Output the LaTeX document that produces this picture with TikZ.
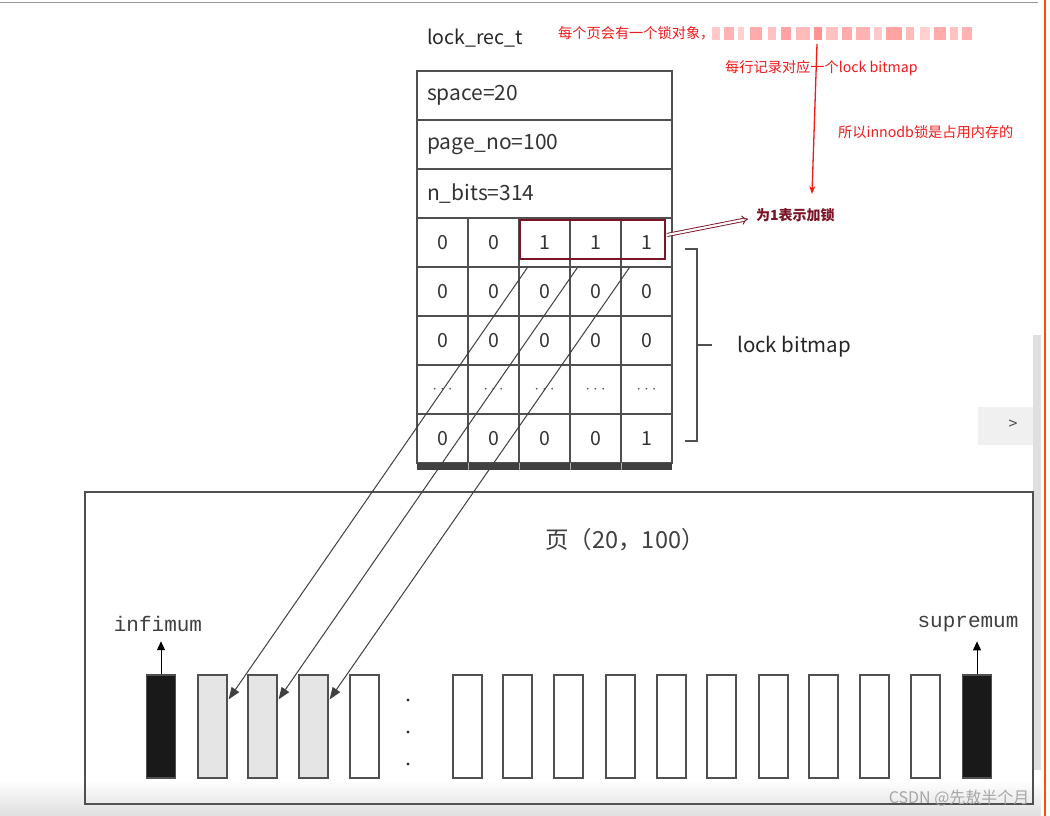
\documentclass[tikz,border=0pt]{standalone}
\usepackage{fontspec}
\setmainfont{Noto Sans CJK SC}
\newfontfamily\monof{Liberation Mono}
\usetikzlibrary{arrows.meta,calc}
\definecolor{hlred}{HTML}{7B1425}
\definecolor{annred}{HTML}{F01A1A}
\definecolor{linegray}{HTML}{505050}
\begin{document}
\begin{tikzpicture}[x=1pt,y=-1pt,
  cell/.style={draw=linegray, line width=1.2pt, minimum width=51pt, minimum height=49pt, inner sep=0pt,
    font=\fontsize{19.5}{22}\selectfont, text=black!80},
  hdr/.style={cell, minimum width=255pt, text width=235pt, align=left, font=\fontsize{21}{24}\selectfont},
  rec/.style={draw=linegray, line width=1.2pt, minimum width=29pt, minimum height=103pt, inner sep=0pt},
  wrec/.style={rec, fill=white},
  grec/.style={rec, fill=gray!20},
  brec/.style={rec, fill=black!90},
  ann/.style={text=annred, font=\fontsize{14.2}{16}\selectfont, inner sep=0pt, anchor=west},
  link/.style={black!75, line width=1pt, -{Triangle[length=12pt,width=9pt]}},
  uparrow/.style={black, line width=1pt, -{Triangle[length=9pt,width=8pt]}},
  mono/.style={font=\monof\fontsize{21}{23}\selectfont, text=black!75}
]
\useasboundingbox (0,0) rectangle (1050,816);
\fill[white] (0,0) rectangle (1050,816);

% window chrome
\draw[gray!80, line width=1pt] (0,3) -- (1038,3);
\fill[gray!25] (1033,335) rectangle (1041,770);
\fill[gray!12] (978,407) rectangle (1033,445);
\node[font=\fontsize{16}{16}\selectfont, text=black!70] (nextbtn) at (1013,425) {>};
\shade[top color=white, bottom color=gray!25] (0,780) rectangle (1041,816);
\draw[orange!60!red, line width=2pt] (1045,0) -- (1045,816);

% title
\node[font=\fontsize{19.5}{22}\selectfont, text=black!85, anchor=west, inner sep=0pt] (title) at (427,38) {lock\_rec\_t};

% header rows
\node[hdr] (space) at (544.5,95.5) {space=20};
\node[hdr] (pageno) at (544.5,144.5) {page\_no=100};
\node[hdr] (nbits) at (544.5,193.5) {n\_bits=314};

% bitmap rows
\foreach \r/\row in {1/{0,0,1,1,1},2/{0,0,0,0,0},3/{0,0,0,0,0},5/{0,0,0,0,1}}{
  \foreach \v [count=\c] in \row {
    \node[cell] (b\r\c) at ({417+25.5+(\c-1)*51},{218+24.5+(\r-1)*49}) {\v};
  }
}
\foreach \c in {1,...,5}{
  \node[cell, text=black!65] (b4\c) at ({417+25.5+(\c-1)*51},{218+24.5+3*49}) {\fontsize{18}{18}\selectfont $\cdots$};
}
\fill[black!75] (417,463) rectangle (672,470);
\foreach \x in {468,519,570,621}{ \draw[gray!60, line width=0.8pt] (\x,463) -- (\x,470); }

% highlight box
\node[draw=hlred, line width=1.6pt, minimum width=145pt, minimum height=39pt, inner sep=0pt] (hl) at (592.5,239.5) {};
\node[text=hlred, font=\bfseries\fontsize{14}{16}\selectfont, inner sep=0pt, anchor=west] (lockmsg) at (756,215) {为1表示加锁};
\coordinate (hlout) at (667,235);
\coordinate (hlin) at (748,219);
\draw[hlred, line width=0.9pt, double distance=2.2pt, -{Implies}] (hlout) -- (hlin);

% brace
\draw[linegray, line width=1.5pt] (685,249) -- (697,249) -- (697,441) -- (685,441);
\coordinate (bracemid) at (697,345);
\node[font=\fontsize{20.5}{23}\selectfont, text=black!85, anchor=west, inner sep=0pt] (lb) at (737,347) {lock bitmap};
\draw[linegray, line width=1.5pt] (bracemid) -- ++(15,0);

% red annotations
\node[ann] (a1) at (558,33) {每个页会有一个锁对象，};
\foreach \x/\w/\o in {712/8/0.35,724/10/0.5,738/6/0.3,750/12/0.55,768/8/0.4,781/10/0.6,796/14/0.45,814/8/0.7,826/12/0.4,842/10/0.55,856/14/0.5,874/8/0.35,886/16/0.6,906/8/0.45,920/10/0.3,934/12/0.55,950/8/0.4,962/10/0.5}{
  \fill[red!60, opacity=\o] (\x,27) rectangle ++(\w,13);
}
\node[ann] (a2) at (725,68) {每行记录对应一个lock bitmap};
\node[ann] (a3) at (838,132) {所以innodb锁是占用内存的};
\coordinate (redtop) at (817,44);
\coordinate (redend) at (812,194);
\draw[annred, line width=1.3pt, -{Stealth[length=8pt,width=6pt]}] (redtop) -- (redend);

% page box
\node[draw=linegray, line width=1.3pt, minimum width=948pt, minimum height=312pt, inner sep=0pt] (page) at (559,648) {};
\node[font=\fontsize{23.5}{26}\selectfont, text=black!75] (pagelbl) at (625,540) {页（20，100）};

% records
\node[brec] (r1) at (161,726.5) {};
\foreach \x [count=\i from 2] in {212.5,262.5,313.5}{ \node[grec] (r\i) at (\x,726.5) {}; }
\foreach \x [count=\i from 5] in {364.5,467.5,517.5,568.5,620.5,671.5,721.5,773.5,823.5,874.5,925.5}{ \node[wrec] (r\i) at (\x,726.5) {}; }
\node[brec] (r16) at (977,726.5) {};
\foreach \y in {700,732,764}{ \fill[black!80] (408,\y) circle (1.6pt); }

\node[mono] (inf) at (158,624) {infimum};
\node[mono] (sup) at (968,624) {supremum};
\draw[uparrow] (r1.north) -- ($(inf.south)+(3,6)$);
\draw[uparrow] (r16.north) -- ($(sup.south)+(9,6)$);

% links from bitmap to records
\coordinate (s1) at ($(b13.south west)+(9,0)$);
\coordinate (s2) at ($(b14.south west)+(8,0)$);
\coordinate (s3) at ($(b15.south west)+(9,0)$);
\draw[link] (s1) -- ($(r2.north east)+(1,25)$);
\draw[link] (s2) -- ($(r3.north east)+(1,25)$);
\draw[link] (s3) -- ($(r4.north east)+(1,25)$);

% watermark
\node[text=gray!70, font=\fontsize{16}{18}\selectfont, anchor=east] (wm) at (1033,798) {CSDN @先敖半个月};
\end{tikzpicture}
\end{document}
